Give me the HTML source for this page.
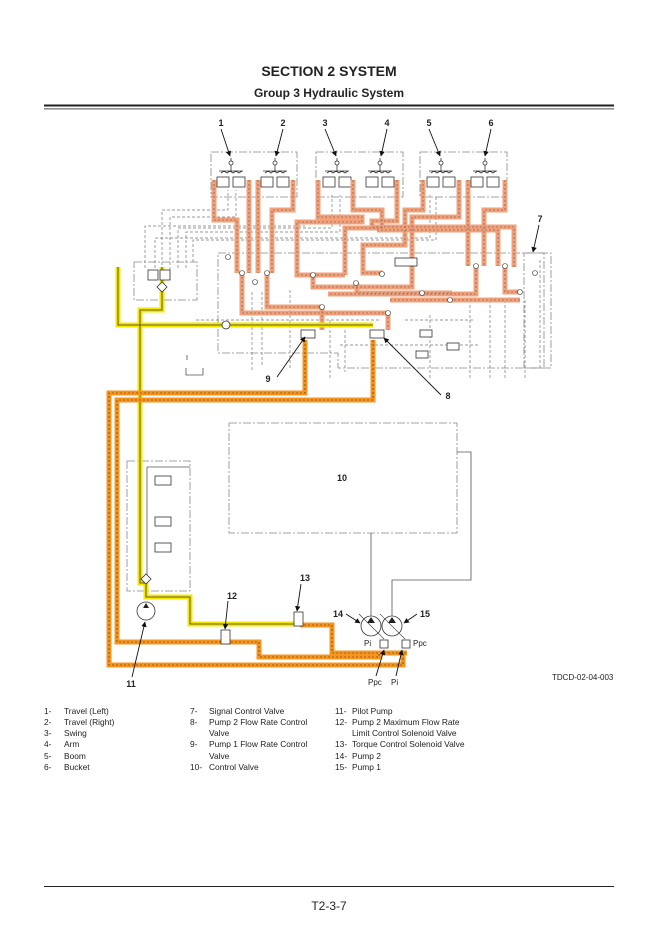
<!DOCTYPE html>
<html><head><meta charset="utf-8"><style>
html,body{margin:0;padding:0;background:#fff;}
body{width:668px;height:951px;position:relative;overflow:hidden;font-family:"Liberation Sans",sans-serif;}
svg{position:absolute;left:0;top:0;}
</style></head><body>
<svg width="668" height="951" viewBox="0 0 668 951" xmlns="http://www.w3.org/2000/svg" font-family="Liberation Sans, sans-serif">
<defs>
<marker id="ar" viewBox="0 0 10 10" refX="9" refY="5" markerWidth="6" markerHeight="6" orient="auto"><path d="M0,0 L10,5 L0,10 z" fill="#111"/></marker>
<g id="pv" stroke="#333" stroke-width="0.8" fill="#fff"><line x1="0" y1="-25" x2="0" y2="-12"/><circle cx="0" cy="-20" r="2"/><path fill="none" d="M-12,-12 H12 M-10,-10 l3,-2 3,2 3,-2 3,2 M2,-10 l3,-2 3,2 3,-2"/><rect x="-14" y="-6" width="12" height="10"/><rect x="2" y="-6" width="12" height="10"/></g>
<path id="s1" d="M214,180 V220 H237 V273 M249,180 V273 M258,180 V273 M293,180 V210 H272 V273 M267,273 V307 H322 M242,273 V313 H388 M318,180 V217 H362 V222 H297 V275 H345 M353,180 V210 H382 V228 H345 V275 M397,180 V221 H372 V227 H514 V267 M423,180 V210 H405 V245 H363 V273 H383 M459,180 V217 H412 V287 H313 V275 M468,180 V266 M505,180 V210 H484 V266 M377,230 H498 V266 M476,266 V294 H328 M505,266 V292 H520 M357,283 V293 H452 M390,300 H520 M322,307 V330 M388,313 V330"/>
<path id="y1" d="M118,267 V325 H373 M162,267 V310 H140 V583 H146 V597 H190 V624 H296"/>
<path id="o1" d="M305,340 V393 H109 V665 H403 V652 M373,340 V400 H117 V642 H259 V657 H379 V652 M300,625 H332 V653 H407"/>
</defs>
<!-- header -->
<text x="329" y="76" text-anchor="middle" font-size="14" font-weight="bold" fill="#222">SECTION 2 SYSTEM</text>
<text x="329" y="97" text-anchor="middle" font-size="12" font-weight="bold" fill="#222">Group 3 Hydraulic System</text>
<rect x="44" y="104.5" width="570" height="2" fill="#222"/>
<rect x="44" y="108.5" width="570" height="0.8" fill="#222"/>

<!-- grey dashed pilot lines -->
<g stroke="#777" stroke-width="0.7" fill="none" stroke-dasharray="3,2">
<path d="M162,280 V210 H228 V190"/><path d="M170,280 V217 H236 V190"/>
<path d="M178,268 V228 H332 V195"/><path d="M186,268 V232 H340 V195"/>
<path d="M145,268 V226 H305"/><path d="M155,268 V238 H430 V195"/>
<path d="M193,262 V240 H436 V195"/>
<path d="M252,292 V370"/><path d="M262,292 V365"/><path d="M290,290 V370"/><path d="M330,320 V380"/>
<path d="M345,330 V372"/><path d="M430,315 V380"/><path d="M470,305 V380"/><path d="M490,300 V380"/>
<path d="M505,300 V380"/><path d="M525,300 V380"/><path d="M540,260 V370"/>
<path d="M196,320 H380"/><path d="M340,345 H480"/><path d="M405,320 H475"/>
</g>
<!-- main frame -->
<g stroke="#888" stroke-width="0.8" fill="none" stroke-dasharray="8,2,2,2">
<path d="M218,253 H551 V368 H338 V353 H218 Z"/>
<rect x="211" y="152" width="86" height="45"/>
<rect x="316" y="152" width="87" height="45"/>
<rect x="420" y="152" width="87" height="45"/>
<rect x="134" y="262" width="63" height="38"/>
<rect x="127" y="461" width="63" height="130"/>
<rect x="229" y="423" width="228" height="110"/>
<rect x="524" y="253" width="20" height="115"/>
</g>
<g stroke="#555" stroke-width="0.8" fill="none">
<path d="M186,368 V375 H203 V368"/><path d="M187,355 V360"/>
<path d="M371,533 V616"/><path d="M457,452 H471 V580 H392 V616"/>
<path d="M147,467 V580"/><path d="M147,467 H190"/>
</g>
<use href="#pv" x="231" y="183"/><use href="#pv" x="275" y="183"/>
<use href="#pv" x="337" y="183"/><use href="#pv" x="380" y="183"/>
<use href="#pv" x="441" y="183"/><use href="#pv" x="485" y="183"/>

<!-- salmon circuits -->
<use href="#s1" fill="none" stroke="#f2a07a" stroke-width="5"/>
<use href="#s1" fill="none" stroke="#555" stroke-width="0.6" stroke-dasharray="2,2"/>
<!-- yellow -->
<use href="#y1" fill="none" stroke="#f5e600" stroke-width="5"/>
<use href="#y1" fill="none" stroke="#333" stroke-width="0.8"/>
<!-- orange -->
<use href="#o1" fill="none" stroke="#f7941d" stroke-width="5"/>
<use href="#o1" fill="none" stroke="#333" stroke-width="0.6" stroke-dasharray="2,2"/>
<!-- small components -->
<g stroke="#333" stroke-width="0.8" fill="#fff">
<rect x="301" y="330" width="14" height="8"/><rect x="370" y="330" width="14" height="8"/>
<rect x="420" y="330" width="12" height="7"/><rect x="447" y="343" width="12" height="7"/>
<rect x="395" y="258" width="22" height="8"/><rect x="416" y="351" width="12" height="7"/>
<rect x="148" y="270" width="10" height="10"/><rect x="160" y="270" width="10" height="10"/>
<path d="M162,282 l5,5 -5,5 -5,-5z"/><path d="M146,574 l5,5 -5,5 -5,-5z"/>
<circle cx="226" cy="325" r="4"/>
<rect x="155" y="476" width="16" height="9"/><rect x="155" y="517" width="16" height="9"/><rect x="155" y="543" width="16" height="9"/>
<circle cx="146" cy="611" r="9"/>
<rect x="221" y="630" width="9" height="14"/><rect x="294" y="612" width="9" height="14"/>
<circle cx="371" cy="626" r="10"/><circle cx="392" cy="626" r="10"/>
<rect x="380" y="640" width="8" height="8"/><rect x="402" y="640" width="8" height="8"/>
</g>
<g fill="#222"><path d="M146,603 l-3,5 h6z"/><path d="M371,617 l-4,6 h8z"/><path d="M392,617 l-4,6 h8z"/></g>
<g stroke="#333" stroke-width="0.6"><line x1="359" y1="614" x2="384" y2="639"/><line x1="380" y1="614" x2="405" y2="639"/></g>
<g fill="#fff" stroke="#333" stroke-width="0.6">
<circle cx="242" cy="273" r="2.5"/><circle cx="267" cy="273" r="2.5"/><circle cx="313" cy="275" r="2.5"/><circle cx="382" cy="274" r="2.5"/>
<circle cx="476" cy="266" r="2.5"/><circle cx="505" cy="266" r="2.5"/><circle cx="422" cy="293" r="2.5"/><circle cx="450" cy="300" r="2.5"/>
<circle cx="322" cy="307" r="2.5"/><circle cx="388" cy="313" r="2.5"/><circle cx="356" cy="283" r="2.5"/><circle cx="520" cy="292" r="2.5"/>
<circle cx="255" cy="282" r="2.5"/><circle cx="535" cy="273" r="2.5"/><circle cx="228" cy="257" r="2.5"/>
</g>
<!-- callouts -->
<g font-size="9" font-weight="bold" fill="#222" text-anchor="middle">
<text x="221" y="126">1</text><text x="283" y="126">2</text><text x="325" y="126">3</text><text x="387" y="126">4</text><text x="429" y="126">5</text><text x="491" y="126">6</text>
<text x="540" y="222">7</text><text x="448" y="399">8</text><text x="268" y="382">9</text><text x="342" y="481">10</text>
<text x="131" y="687">11</text><text x="232" y="599">12</text><text x="305" y="581">13</text><text x="338" y="617">14</text><text x="425" y="617">15</text>
</g>
<g stroke="#111" stroke-width="0.9" marker-end="url(#ar)">
<line x1="221" y1="129" x2="230" y2="156"/><line x1="283" y1="129" x2="276" y2="156"/>
<line x1="325" y1="129" x2="336" y2="156"/><line x1="387" y1="129" x2="381" y2="156"/>
<line x1="429" y1="129" x2="440" y2="156"/><line x1="491" y1="129" x2="485" y2="156"/>
<line x1="539" y1="225" x2="533" y2="252"/><line x1="441" y1="395" x2="384" y2="338"/>
<line x1="277" y1="377" x2="305" y2="337"/><line x1="132" y1="677" x2="145" y2="622"/>
<line x1="228" y1="601" x2="225" y2="629"/><line x1="301" y1="584" x2="297" y2="611"/>
<line x1="346" y1="614" x2="360" y2="623"/><line x1="417" y1="614" x2="404" y2="623"/>
<line x1="376" y1="676" x2="384" y2="650"/><line x1="396" y1="676" x2="402" y2="650"/>
</g>
<g font-size="8" fill="#222">
<text x="364" y="646">Pi</text><text x="413" y="646">Ppc</text>
<text x="368" y="685">Ppc</text><text x="391" y="685">Pi</text>
<text x="552" y="680">TDCD-02-04-003</text>
</g>
<!-- legend -->
<g font-size="8.4" fill="#222">
<text x="44" y="714">1-</text><text x="64" y="714">Travel (Left)</text>
<text x="44" y="725">2-</text><text x="64" y="725">Travel (Right)</text>
<text x="44" y="736">3-</text><text x="64" y="736">Swing</text>
<text x="44" y="747">4-</text><text x="64" y="747">Arm</text>
<text x="44" y="759">5-</text><text x="64" y="759">Boom</text>
<text x="44" y="770">6-</text><text x="64" y="770">Bucket</text>
<text x="190" y="714">7-</text><text x="209" y="714">Signal Control Valve</text>
<text x="190" y="725">8-</text><text x="209" y="725">Pump 2 Flow Rate Control</text>
<text x="209" y="736">Valve</text>
<text x="190" y="747">9-</text><text x="209" y="747">Pump 1 Flow Rate Control</text>
<text x="209" y="759">Valve</text>
<text x="190" y="770">10-</text><text x="209" y="770">Control Valve</text>
<text x="335" y="714">11-</text><text x="352" y="714">Pilot Pump</text>
<text x="335" y="725">12-</text><text x="352" y="725">Pump 2 Maximum Flow Rate</text>
<text x="352" y="736">Limit Control Solenoid Valve</text>
<text x="335" y="747">13-</text><text x="352" y="747">Torque Control Solenoid Valve</text>
<text x="335" y="759">14-</text><text x="352" y="759">Pump 2</text>
<text x="335" y="770">15-</text><text x="352" y="770">Pump 1</text>
</g>
<rect x="44" y="886" width="570" height="1" fill="#222"/>
<text x="329" y="910" text-anchor="middle" font-size="12" fill="#222">T2-3-7</text>
</svg>
</body></html>
